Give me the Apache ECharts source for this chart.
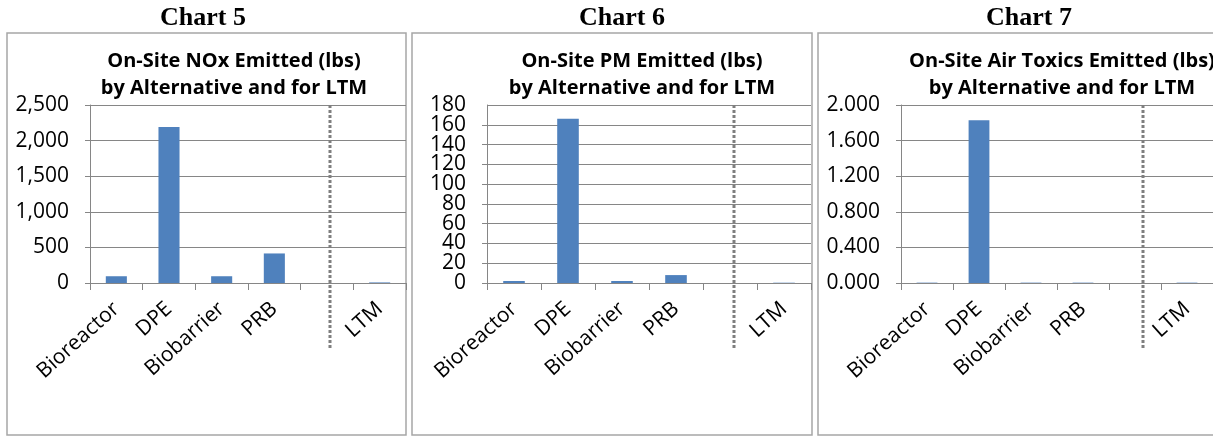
<!DOCTYPE html>
<html>
<head>
<meta charset="utf-8">
<script src="https://cdn.jsdelivr.net/npm/echarts@6/dist/echarts.min.js"></script>
<style>
  html, body { margin: 0; padding: 0; background: #fff; }
  #c { width: 1213px; height: 436px; }
</style>
</head>
<body>
<div id="c"></div>
<script>
// Categories shared by the three panels (blank slot separates the alternatives from LTM)
const categories = ['Bioreactor', 'DPE', 'Biobarrier', 'PRB', '', 'LTM'];

// On-site emissions, lbs
const noxLbs       = [95, 2190, 95, 415, null, 8];
const pmLbs        = [2, 166, 2, 8, null, 0.3];
const airToxicsLbs = [0.004, 1.83, 0.004, 0.004, null, 0.004];

const chartNames  = ['Chart 5', 'Chart 6', 'Chart 7'];
const chartTitles = [
  'On-Site NOx Emitted (lbs)\nby Alternative and for LTM',
  'On-Site PM Emitted (lbs)\nby Alternative and for LTM',
  'On-Site Air Toxics Emitted (lbs)\nby Alternative and for LTM'
];
const yMax  = [2500, 180, 2];
const yStep = [500, 20, 0.4];
const yLabelFormat = [
  v => v.toLocaleString('en-US'),
  v => String(v),
  v => v.toFixed(3)
];
const seriesData = [noxLbs, pmLbs, airToxicsLbs];

// Panel layout (pixels); the PM axis has tightly packed labels, so they are split
// over two overlaid axes (alternate ticks) to keep every one of them visible.
const panels = [
  { box: [7, 33, 406, 435],   gridLeft: 90,  gridRight: 807, nameX: 203,  titleX: 234,  sepShift: 3, stagger: false },
  { box: [412, 33, 812, 435], gridLeft: 487, gridRight: 402, nameX: 622,  titleX: 642,  sepShift: 4, stagger: true },
  { box: [818, 33, 1216, 435],gridLeft: 901, gridRight: -4,  nameX: 1029, titleX: 1062, sepShift: 8, stagger: false }
];

const FONT = '"Open Sans", "Liberation Sans", sans-serif';
const GRID_TOP = 105, GRID_BOTTOM = 153;
const AXIS_GREY = '#868686';
const BAR_BLUE = '#4f81bd';

const grid = [], xAxis = [], yAxis = [], extraYAxis = [], series = [], graphic = [];

const yLabelBase = { color: '#000', fontSize: 21, fontFamily: FONT, margin: 21, hideOverlap: false };

panels.forEach((p, i) => {
  grid.push({ left: p.gridLeft, right: p.gridRight, top: GRID_TOP, bottom: GRID_BOTTOM, containLabel: false });
  xAxis.push({
    type: 'category', gridIndex: i, data: categories,
    axisLine: { show: true, lineStyle: { color: AXIS_GREY, width: 1 } },
    axisTick: { show: true, length: 7, lineStyle: { color: AXIS_GREY } },
    axisLabel: { interval: 0, rotate: 42, color: '#000', fontSize: 21, fontFamily: FONT, margin: 23, hideOverlap: false }
  });

  const fmt = yLabelFormat[i];
  const lastIdx = Math.round(yMax[i] / yStep[i]);
  const idxOf = v => Math.round(v / yStep[i]);

  yAxis.push({
    type: 'value', gridIndex: i, position: 'left', min: 0, max: yMax[i], interval: yStep[i],
    axisLine: { show: true, lineStyle: { color: AXIS_GREY, width: 1 } },
    axisTick: { show: true, length: 5, lineStyle: { color: AXIS_GREY } },
    splitLine: { show: true, lineStyle: { color: AXIS_GREY, width: 1 } },
    axisLabel: Object.assign({}, yLabelBase, p.stagger ? {
      showMinLabel: true, showMaxLabel: lastIdx % 2 === 0,
      formatter: v => (idxOf(v) % 2 === 0 ? fmt(v) : '')
    } : {
      showMinLabel: true, showMaxLabel: true, formatter: fmt
    })
  });

  if (p.stagger) {
    extraYAxis.push({
      type: 'value', gridIndex: i, position: 'left', min: 0, max: yMax[i], interval: yStep[i],
      axisLine: { show: false }, axisTick: { show: false }, splitLine: { show: false },
      axisLabel: Object.assign({}, yLabelBase, {
        showMinLabel: false, showMaxLabel: lastIdx % 2 === 1,
        formatter: v => (idxOf(v) % 2 === 1 ? fmt(v) : '')
      })
    });
  }

  series.push({
    type: 'bar', xAxisIndex: i, yAxisIndex: i, data: seriesData[i],
    barWidth: '40%', itemStyle: { color: BAR_BLUE }, animation: false
  });

  // Panel frame
  graphic.push({
    type: 'rect', silent: true, z: -1,
    shape: { x: p.box[0], y: p.box[1], width: p.box[2] - p.box[0], height: p.box[3] - p.box[1] },
    style: { fill: 'none', stroke: '#a6a6a6', lineWidth: 1.5 }
  });
  // "Chart N" heading above the frame
  graphic.push({
    type: 'text', silent: true,
    style: { x: p.nameX, y: 18, text: chartNames[i], textAlign: 'center', textVerticalAlign: 'middle',
             font: 'bold 26px "Liberation Serif", "Times New Roman", serif', fill: '#000' }
  });
  // Chart title inside the frame
  graphic.push({
    type: 'text', silent: true,
    style: { x: p.titleX, y: 75, text: chartTitles[i], textAlign: 'center', textVerticalAlign: 'middle',
             font: 'bold 20px ' + FONT, lineHeight: 27, fill: '#000' }
  });
});

const chart = echarts.init(document.getElementById('c'), null, { renderer: 'canvas' });
chart.setOption({ animation: false, grid, xAxis, yAxis: yAxis.concat(extraYAxis), series, graphic });

// Dotted separator between the alternatives and LTM, placed at the blank category slot
const separators = panels.map((p, i) => {
  const x = chart.convertToPixel({ xAxisIndex: i }, 4) + p.sepShift;
  const yTop = chart.convertToPixel({ yAxisIndex: i }, yMax[i]);
  return {
    type: 'line', silent: true, z: 10,
    shape: { x1: x, y1: yTop, x2: x, y2: 350 },
    style: { stroke: '#7f7f7f', lineWidth: 3, lineDash: [3, 2] }
  };
});
chart.setOption({ graphic: graphic.concat(separators) });
</script>
</body>
</html>
